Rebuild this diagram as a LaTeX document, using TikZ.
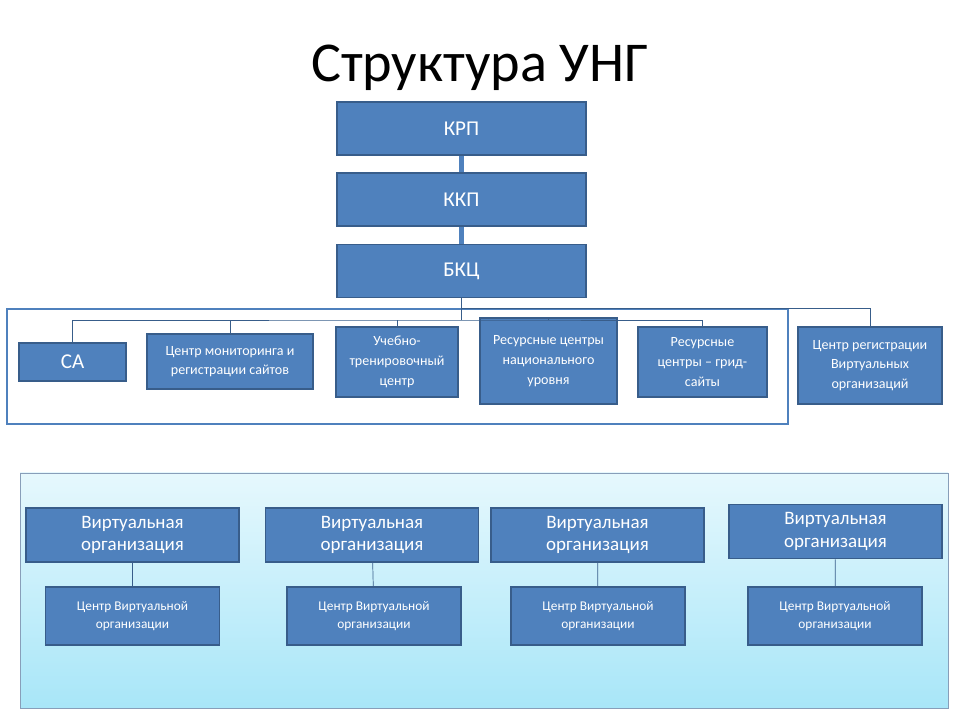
\documentclass[tikz,border=0pt]{standalone}
\usepackage{fontspec}
\setmainfont{Carlito}
\usetikzlibrary{positioning}
\definecolor{boxblue}{HTML}{4F81BD}
\definecolor{boxedge}{HTML}{385D8A}
\definecolor{panelin}{HTML}{E6F8FD}
\definecolor{panelout}{HTML}{A8E6F8}

\begin{document}
\begin{tikzpicture}[x=0.025cm, y=-0.025cm,
  box/.style={draw=boxedge, line width=1.2pt, fill=boxblue, text=white, align=center, inner sep=1pt},
  link/.style={draw=boxedge, line width=0.5pt}]
\useasboundingbox (0,0) rectangle (960,720);

\node[font=\fontsize{40}{44}\selectfont] (title) at (480,68) {Структура УНГ};

% top chain
\foreach \name/\txt/\y in {krp/КРП/128.5, kkp/ККП/199.5, bkc/БКЦ/271} {
    \node[box, minimum width=249*0.025cm, minimum height=53*0.025cm, font=\fontsize{15}{18}\selectfont] (\name) at (461.5,\y) {\txt};
}
\draw[boxblue, line width=4pt] (krp) -- (kkp);
\draw[boxblue, line width=4pt] (kkp) -- (bkc);

% frame of the centres
\draw[boxblue, line width=1.8pt] (7,309) rectangle (788,424);

\foreach \name/\txt/\x/\y/\w/\h/\fs/\ls in {
    ca/СА/72.5/362/107/38/15/18,
    mon/Центр мониторинга и\\регистрации сайтов/230/361.5/166/55/10/14,
    ucheb/Учебно-\\тренировочный\\центр/397/362/122/70/10/14,
    resnat/Ресурсные центры\\национального\\уровня/548.5/361/137/86/10/14,
    resgrid/Ресурсные\\центры -- грид-\\сайты/702.5/362/129/70/10/14,
    reg/Центр регистрации\\Виртуальных\\организаций/870/365.5/144/77/10/14} {
    \node[box, minimum width=\w*0.025cm, minimum height=\h*0.025cm, font=\fontsize{\fs}{\ls}\selectfont] (\name) at (\x,\y) {\txt};
}

\coordinate (hub) at (461.5,320);
\draw[link] (bkc.south) |- (870,308) -- (reg.north);
\draw[link] (bkc.south) -- (hub);
\draw[link] (ca.north) |- (hub) -| (resgrid.north);
\foreach \name in {mon, ucheb, resnat} {
    \draw[link] (\name.north) -- (\name.north |- hub);
}

% panel of virtual organisations
\shade[top color=panelin, bottom color=panelout, draw=boxedge!60, line width=0.6pt] (20,473) rectangle (948,708);

\foreach \i/\x/\y/\cx in {1/132.5/535/132.5, 2/372/535/374, 3/597.5/535/598, 4/835.5/531.5/835} {
    \node[box, minimum width=213*0.025cm, minimum height=54*0.025cm, font=\fontsize{13.5}{16}\selectfont] (vo\i) at (\x,\y) {Виртуальная\\организация};
    \node[box, minimum width=174*0.025cm, minimum height=58*0.025cm, font=\fontsize{9.5}{13}\selectfont] (cvo\i) at (\cx,616) {Центр Виртуальной\\организации};
    \draw[link] (vo\i) -- (cvo\i);
}
\end{tikzpicture}
\end{document}
